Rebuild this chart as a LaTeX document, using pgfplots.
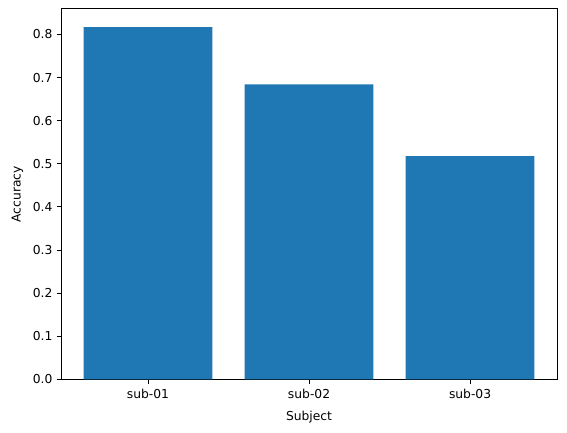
\documentclass[border=0pt]{standalone}
\usepackage{pgfplots}
\pgfplotsset{compat=1.18}
\usepackage{fontspec}
\setmainfont{DejaVu Sans}
\definecolor{mplblue}{HTML}{1F77B4}
\begin{document}
\begin{tikzpicture}
\begin{axis}[
  name=ax,
  scale only axis,
  width=403pt, height=301pt,
  xmin=-0.54, xmax=2.54, ymin=0, ymax=0.859,
  xtick={0,1,2}, xticklabels={sub-01,sub-02,sub-03},
  ytick={0,0.1,...,0.8},
  yticklabel style={/pgf/number format/.cd, fixed, fixed zerofill, precision=1},
  xticklabel style={yshift=-1pt},
  /pgf/number format/assume math mode=true,
  tick align=outside, major tick length=3.5pt,
  xtick pos=bottom, ytick pos=left,
  tick style={black, line width=0.8pt},
  axis line style={line width=0.8pt},
  ticklabel style={font=\fontsize{10}{12}\selectfont},
  label style={font=\fontsize{10}{12}\selectfont},
  xlabel={Subject}, ylabel={Accuracy},
  xlabel style={yshift=-3pt},
  ylabel style={yshift=1pt},
]
\addplot[ybar, bar width=0.8, fill=mplblue, draw=none] coordinates {
(0, 0.817)
(1, 0.684)
(2, 0.518)
};
\end{axis}
\pgfresetboundingbox
\path[use as bounding box] ([xshift=-49.6pt, yshift=-43.1pt]ax.south west) rectangle ([xshift=8.1pt, yshift=7.3pt]ax.north east);
\end{tikzpicture}
\end{document}
